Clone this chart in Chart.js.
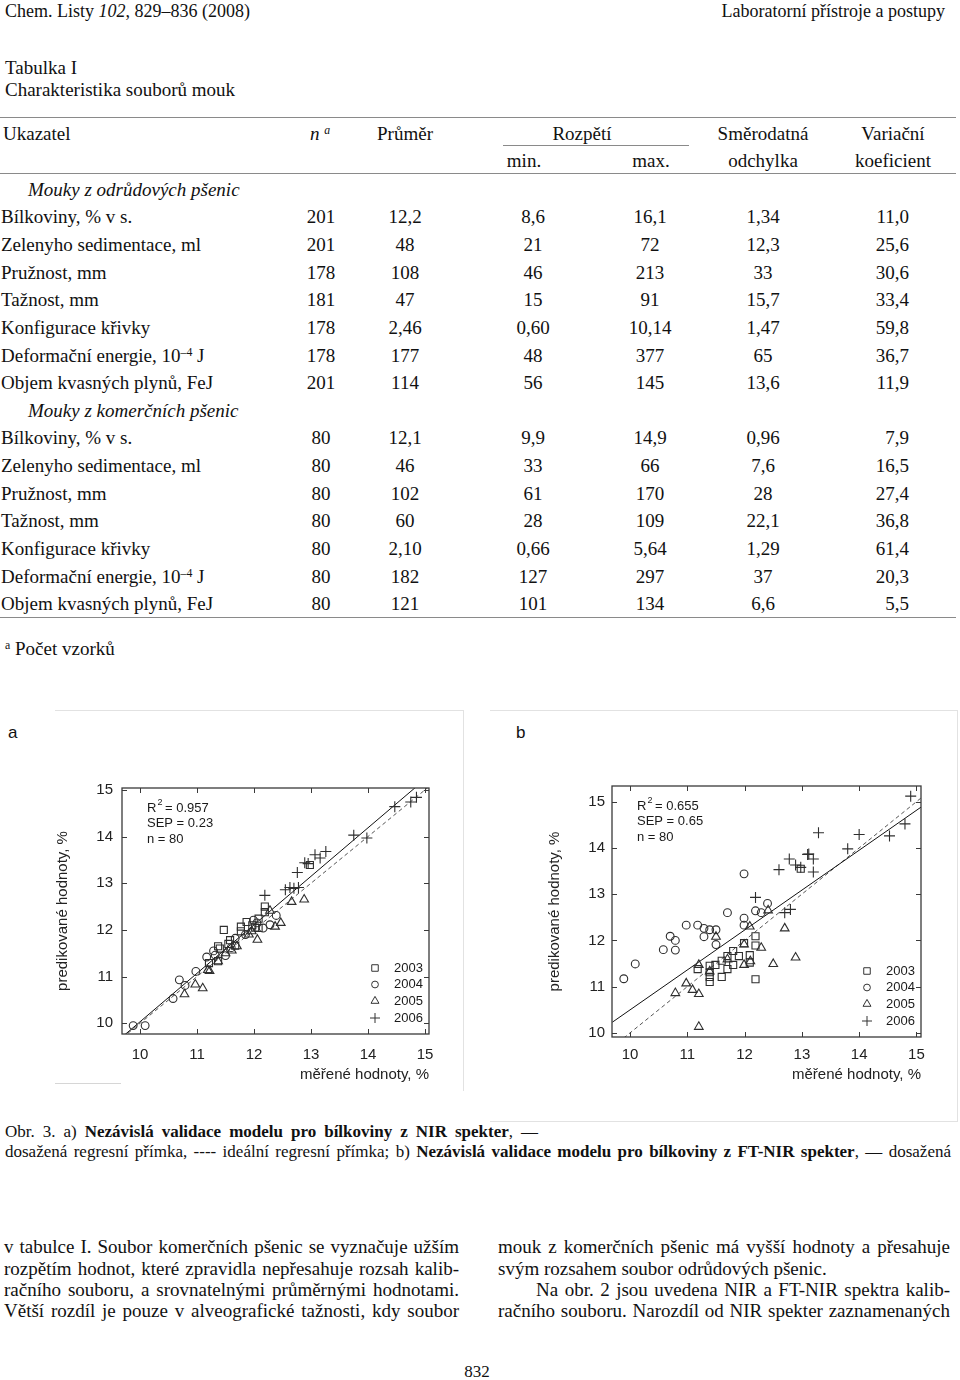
<!DOCTYPE html>
<html lang="cs">
<head>
<meta charset="utf-8">
<script src="https://cdn.jsdelivr.net/npm/chart.js@4.4.1/dist/chart.umd.min.js"></script>
<style>
  html,body{margin:0;padding:0;background:#fff;}
  body{width:960px;height:1380px;position:relative;overflow:hidden;font-family:"Liberation Serif","Times New Roman",serif;color:#111;}
  .t{position:absolute;white-space:nowrap;line-height:1;}
  .c{transform:translateX(-50%);}
  .r{transform:translateX(-100%);}
  .hl{position:absolute;height:0;border-top:1.5px solid #8a8a8a;}
  sup{font-size:62%;line-height:0;vertical-align:0.55em;}
  canvas{position:absolute;}
  .pb{position:absolute;border-color:#e2e2e2;border-style:solid;border-width:0;}
  .sans{font-family:"Liberation Sans",Arial,sans-serif;}
</style>
</head>
<body>
<div id="page"></div>
<div class="pb" style="left:55px;top:710px;width:408px;height:380px;border-top-width:1px;border-right-width:1px;"></div>
<div class="pb" style="left:55px;top:1083px;width:66px;height:0;border-top-width:1px;border-color:#d6d6d6;"></div>
<div class="pb" style="left:490px;top:710px;width:467px;height:410px;border-top-width:1px;border-right-width:1px;border-bottom-width:1px;"></div>
<div class="t sans" style="left:8px;top:724px;font-size:17px;">a</div>
<div class="t sans" style="left:516px;top:724px;font-size:17px;">b</div>
<canvas id="chartA" width="400" height="320" style="left:50px;top:770px;"></canvas>
<canvas id="chartB" width="400" height="320" style="left:540px;top:770px;"></canvas>

<script>
// ---------------- table data ----------------
const tableHead1 = ["Ukazatel", "Průměr", "Rozpětí", "Směrodatná", "Variační"];
const tableHead2 = ["min.", "max.", "odchylka", "koeficient"];
const groupTitles = ["Mouky z odrůdových pšenic", "Mouky z komerčních pšenic"];
const rowLabels = ["Bílkoviny, % v s.", "Zelenyho sedimentace, ml", "Pružnost, mm", "Tažnost, mm",
  "Konfigurace křivky", "Deformační energie, 10<sup>–4</sup> J", "Objem kvasných plynů, FeJ"];
const group1Values = [
  ["201","12,2","8,6","16,1","1,34","11,0"],
  ["201","48","21","72","12,3","25,6"],
  ["178","108","46","213","33","30,6"],
  ["181","47","15","91","15,7","33,4"],
  ["178","2,46","0,60","10,14","1,47","59,8"],
  ["178","177","48","377","65","36,7"],
  ["201","114","56","145","13,6","11,9"]];
const group2Values = [
  ["80","12,1","9,9","14,9","0,96","7,9"],
  ["80","46","33","66","7,6","16,5"],
  ["80","102","61","170","28","27,4"],
  ["80","60","28","109","22,1","36,8"],
  ["80","2,10","0,66","5,64","1,29","61,4"],
  ["80","182","127","297","37","20,3"],
  ["80","121","101","134","6,6","5,5"]];

// ---------------- chart data: [measured, predicted] ----------------
const years = ["2003", "2004", "2005", "2006"];
const tickValues = [10, 11, 12, 13, 14, 15];

const a2003 = [[11.47,12.00],[11.37,11.65],[11.58,11.78],[11.67,11.66],[11.77,12.07],[11.77,11.97],[11.87,12.17],
  [12.08,12.24],[12.19,12.50],[12.19,12.38],[12.08,12.04],[11.21,11.29],[11.37,11.33],[11.97,12.10],[12.98,13.39],
  [11.40,11.60],[12.02,12.05],[11.55,11.70]];
const a2004 = [[9.88,9.95],[10.09,9.95],[10.69,10.93],[10.58,10.53],[10.79,10.81],[10.98,11.11],[11.17,11.42],
  [11.29,11.55],[11.32,11.46],[11.50,11.45],[11.67,11.82],[11.99,12.21],[12.28,12.11],[12.39,12.31],[12.16,12.04],
  [12.05,12.15],[11.85,11.90],[11.60,11.62]];
const a2005 = [[10.78,10.62],[10.97,10.83],[11.10,10.75],[11.19,11.14],[11.22,11.12],[11.37,11.33],[11.61,11.56],
  [11.70,11.65],[11.91,11.90],[12.06,11.79],[11.96,11.97],[12.37,12.07],[12.47,12.15],[12.66,12.60],[12.88,12.65],
  [12.28,12.41],[11.50,11.50]];
const a2006 = [[12.19,12.74],[12.55,12.86],[12.63,12.91],[12.78,12.91],[12.76,13.23],[12.89,13.44],[12.95,13.42],
  [13.07,13.61],[13.16,13.54],[13.26,13.68],[13.75,14.03],[13.98,13.97],[14.47,14.64],[14.75,14.74],[14.85,14.84],
  [12.70,12.89]];
const aFitLine = [[9.70,9.72],[14.84,15.06]];
const aIdealLine = [[9.6,9.6],[15.4,15.4]];
const aStats = ["0.957", "0.23", "80"];

const b2003 = [[11.18,11.38],[11.39,11.45],[11.39,11.31],[11.39,11.21],[11.39,11.10],[11.49,11.47],[11.60,11.21],
  [11.60,11.56],[11.70,11.38],[11.70,11.66],[11.80,11.77],[11.80,11.47],[11.90,11.66],[11.99,11.94],[12.09,11.68],
  [12.09,11.52],[12.19,12.09],[12.19,11.89],[12.19,11.16],[12.98,13.55]];
const b2004 = [[9.89,11.17],[10.09,11.49],[10.58,11.80],[10.70,12.09],[10.79,12.00],[10.79,11.79],[10.98,12.33],
  [11.18,12.33],[11.29,12.26],[11.29,12.08],[11.39,12.23],[11.50,12.23],[11.50,11.91],[11.70,12.60],[11.99,13.44],
  [11.99,12.48],[11.99,12.33],[12.19,12.64],[12.29,12.60],[12.40,12.80]];
const b2005 = [[10.79,10.86],[10.98,11.07],[11.09,10.93],[11.20,10.84],[11.20,10.13],[11.20,11.47],[11.39,11.33],
  [11.50,12.08],[11.70,11.59],[11.99,11.91],[11.99,11.47],[12.09,12.30],[12.29,11.84],[12.41,12.65],[12.50,11.49],
  [12.70,12.26],[12.89,11.63],[12.10,11.55]];
const b2006 = [[12.19,12.93],[12.60,13.53],[12.78,13.76],[12.89,13.63],[12.98,13.58],[13.10,13.86],[13.20,13.76],
  [13.20,13.48],[13.29,14.33],[13.80,13.98],[14.00,14.29],[14.53,14.26],[14.80,14.52],[14.90,15.12],[12.70,12.60],
  [12.80,12.67],[13.12,13.87]];
const bFitLine = [[9.69,10.23],[15.1,14.90]];
const bIdealLine = [[9.6,9.6],[15.4,15.4]];
const bStats = ["0.655", "0.65", "80"];

const xTitle = "měřené hodnoty, %";
const yTitle = "predikované hodnoty, %";

// ---------------- page text ----------------
const page = document.getElementById('page');
function txt(html, x, y, fs, cls, extra) {
  const d = document.createElement('div');
  d.className = 't ' + (cls || '');
  d.style.left = x + 'px';
  d.style.top = (y - fs / 2) + 'px';
  d.style.fontSize = fs + 'px';
  if (extra) d.style.cssText += extra;
  d.innerHTML = html;
  page.appendChild(d);
  return d;
}
// single justified line: stretch (or squeeze) the word spacing to fill width w
function jline(html, x, y, w, fs) {
  const d = txt(html, x, y, fs);
  const natural = d.getBoundingClientRect().width;
  const gaps = (d.textContent.match(/ /g) || []).length;
  if (gaps > 0) {
    let ws = (w - natural) / gaps;
    if (ws < -1.5) {
      d.style.letterSpacing = ((w - natural + 1.5 * gaps) / d.textContent.length) + 'px';
      ws = -1.5;
    }
    d.style.wordSpacing = ws + 'px';
  }
  return d;
}
function hline(x, y, w) {
  const d = document.createElement('div');
  d.className = 'hl';
  d.style.left = x + 'px'; d.style.top = y + 'px'; d.style.width = w + 'px';
  page.appendChild(d);
}

const FS = 19;
txt('Chem. Listy <i>102</i>, 829–836 (2008)', 5, 11, 18);
txt('Laboratorní přístroje a postupy', 945, 11, 18, 'r');
txt('Tabulka I', 5, 67, FS);
txt('Charakteristika souborů mouk', 5, 89, FS);
hline(0, 117, 956);
txt(tableHead1[0], 3, 133, FS);
txt('<i>n</i> <sup><i>a</i></sup>', 310, 133, FS);
txt(tableHead1[1], 405, 133, FS, 'c');
txt(tableHead1[2], 582, 133, FS, 'c');
hline(503, 145, 186);
txt(tableHead1[3], 763, 133, FS, 'c');
txt(tableHead1[4], 893, 133, FS, 'c');
txt(tableHead2[0], 524, 160, FS, 'c');
txt(tableHead2[1], 651, 160, FS, 'c');
txt(tableHead2[2], 763, 160, FS, 'c');
txt(tableHead2[3], 893, 160, FS, 'c');
hline(0, 173, 956);

const colX = [321, 405, 533, 650, 763];
function drawGroup(title, values, y0) {
  txt('<i>' + title + '</i>', 28, y0, FS);
  values.forEach((row, i) => {
    const y = y0 + 27.7 * (i + 1);
    txt(rowLabels[i], 1, y, FS);
    row.slice(0, 5).forEach((v, k) => txt(v, colX[k], y, FS, 'c'));
    txt(row[5], 909, y, FS, 'r');
  });
}
drawGroup(groupTitles[0], group1Values, 189);
drawGroup(groupTitles[1], group2Values, 410);
hline(0, 617, 956);
txt('<sup>a</sup> Počet vzorků', 5, 648, FS);

// caption
jline('Obr. 3. a) <b>Nezávislá validace modelu pro bílkoviny z NIR spekter</b>, —', 5, 1131, 533, 17);
jline('dosažená regresní přímka, ---- ideální regresní přímka; b) <b>Nezávislá validace modelu pro bílkoviny z FT-NIR spekter</b>, — dosažená', 5, 1151, 946, 17);

// body text
const BF = 19;
jline('v tabulce I. Soubor komerčních pšenic se vyznačuje užším', 4, 1246, 455, BF);
jline('rozpětím hodnot, které zpravidla nepřesahuje rozsah kalib-', 4, 1268, 455, BF);
jline('račního souboru, a srovnatelnými průměrnými hodnotami.', 4, 1289, 455, BF);
jline('Větší rozdíl je pouze v alveografické tažnosti, kdy soubor', 4, 1310, 455, BF);
jline('mouk z komerčních pšenic má vyšší hodnoty a přesahuje', 498, 1246, 452, BF);
txt('svým rozsahem soubor odrůdových pšenic.', 498, 1268, BF);
jline('Na obr. 2 jsou uvedena NIR a FT-NIR spektra kalib-', 536, 1289, 414, BF);
jline('račního souboru. Narozdíl od NIR spekter zaznamenaných', 498, 1310, 452, BF);
txt('832', 477, 1371, 17, 'c');

// ---------------- charts ----------------
Chart.defaults.font.family = '"Liberation Sans", Arial, sans-serif';
Chart.defaults.color = '#222';

function drawSymbol(ctx, style, r, x, y) {
  ctx.beginPath();
  if (style === 'rect') { const s = r * Math.SQRT1_2; ctx.rect(x - s, y - s, 2 * s, 2 * s); }
  else if (style === 'circle') ctx.arc(x, y, r, 0, Math.PI * 2);
  else if (style === 'triangle') { ctx.moveTo(x, y - r); ctx.lineTo(x + r * 0.866, y + r * 0.5); ctx.lineTo(x - r * 0.866, y + r * 0.5); ctx.closePath(); }
  else { ctx.moveTo(x - r, y); ctx.lineTo(x + r, y); ctx.moveTo(x, y - r); ctx.lineTo(x, y + r); }
  ctx.stroke();
}

const framePlugin = {
  id: 'frame',
  afterDraw(chart, args, opts) {
    const {ctx, chartArea: {left, right, top, bottom}, scales: {x, y}} = chart;
    ctx.save();
    ctx.strokeStyle = '#3a3a3a';
    ctx.lineWidth = 1.3;
    ctx.strokeRect(left, top, right - left, bottom - top);
    ctx.lineWidth = 1;
    ctx.beginPath();
    x.ticks.forEach(t => {
      const px = Math.round(x.getPixelForValue(t.value)) + 0.5;
      ctx.moveTo(px, top); ctx.lineTo(px, top + 5);
      ctx.moveTo(px, bottom); ctx.lineTo(px, bottom - 5);
    });
    y.ticks.forEach(t => {
      const py = Math.round(y.getPixelForValue(t.value)) + 0.5;
      ctx.moveTo(left, py); ctx.lineTo(left + 5, py);
      ctx.moveTo(right, py); ctx.lineTo(right - 5, py);
    });
    ctx.stroke();

    // statistics box
    const s = opts.stats;
    ctx.fillStyle = '#1a1a1a';
    ctx.textBaseline = 'middle';
    ctx.textAlign = 'left';
    ctx.font = '13px "Liberation Sans", Arial, sans-serif';
    const lx = left + 25;
    ctx.fillText('R', lx, top + 20);
    const rw = ctx.measureText('R').width;
    ctx.font = '9px "Liberation Sans", Arial, sans-serif';
    ctx.fillText('2', lx + rw + 1, top + 15);
    ctx.font = '13px "Liberation Sans", Arial, sans-serif';
    ctx.fillText(' = ' + s[0], lx + rw + 5, top + 20);
    ctx.fillText('SEP = ' + s[1], lx, top + 35.5);
    ctx.fillText('n = ' + s[2], lx, top + 51);

    // legend
    const rows = [66, 49.5, 33, 16];
    chart.data.datasets.forEach((ds, i) => {
      if (!ds.isYear) return;
      const yy = bottom - rows[i];
      ctx.strokeStyle = '#333';
      ctx.lineWidth = 1;
      const r = ds.pointStyle === 'cross' ? 5 : (ds.pointStyle === 'circle' ? 3.4 : 4.6);
      drawSymbol(ctx, ds.pointStyle, r, right - 54, yy);
      ctx.fillStyle = '#1a1a1a';
      ctx.fillText(ds.label, right - 35, yy);
    });
    ctx.restore();
  }
};

const styles = [
  {pointStyle: 'rect', radius: 5},
  {pointStyle: 'circle', radius: 3.9},
  {pointStyle: 'triangle', radius: 5},
  {pointStyle: 'cross', radius: 5.5}
];
function toXY(arr) { return arr.map(p => ({x: p[0], y: p[1]})); }

function buildChart(id, series, fitLine, idealLine, stats, geom) {
  const datasets = series.map((arr, i) => ({
    type: 'scatter',
    label: years[i],
    isYear: true,
    data: toXY(arr),
    pointStyle: styles[i].pointStyle,
    pointRadius: styles[i].radius,
    pointHoverRadius: styles[i].radius,
    pointBorderWidth: 1.1,
    borderColor: '#2e2e2e',
    backgroundColor: 'rgba(0,0,0,0)',
    order: 1
  }));
  datasets.push({
    type: 'line', label: 'fit', data: toXY(fitLine), borderColor: '#111', borderWidth: 1,
    pointRadius: 0, fill: false, tension: 0, order: 2
  });
  datasets.push({
    type: 'line', label: 'ideal', data: toXY(idealLine), borderColor: '#555', borderWidth: 1,
    borderDash: [4, 3], pointRadius: 0, fill: false, tension: 0, order: 3
  });
  return new Chart(document.getElementById(id), {
    type: 'scatter',
    data: {datasets},
    plugins: [framePlugin],
    options: {
      responsive: false,
      animation: false,
      events: [],
      layout: {padding: {top: geom.top, right: geom.right, left: 0, bottom: 0}},
      plugins: {legend: {display: false}, tooltip: {enabled: false}, frame: {stats}},
      scales: {
        x: {
          type: 'linear', min: geom.xmin, max: geom.xmax,
          afterBuildTicks: sc => { sc.ticks = tickValues.map(v => ({value: v})); },
          afterFit: sc => { sc.height = geom.xh; },
          grid: {display: false, drawTicks: false},
          border: {display: false},
          ticks: {padding: geom.xpad, font: {size: 15}, color: '#222', maxRotation: 0, callback: v => String(v)},
          title: {display: true, text: xTitle, align: 'end', font: {size: 15}, color: '#222', padding: {top: 0, bottom: 6}}
        },
        y: {
          type: 'linear', min: geom.ymin, max: geom.ymax,
          afterBuildTicks: sc => { sc.ticks = tickValues.map(v => ({value: v})); },
          afterFit: sc => { sc.width = 72; },
          grid: {display: false, drawTicks: false},
          border: {display: false},
          ticks: {padding: geom.ypad, font: {size: 15}, color: '#222', callback: v => String(v)},
          title: {display: true, text: yTitle, font: {size: 15}, color: '#222', padding: {top: geom.ytpad, bottom: 0}}
        }
      }
    }
  });
}

buildChart('chartA', [a2003, a2004, a2005, a2006], aFitLine, aIdealLine, aStats,
  {top: 7, right: 21, xh: 56, xmin: 9.684, xmax: 15.07, ymin: 9.77, ymax: 15.04, xpad: 12, ypad: 9, ytpad: 4});
buildChart('chartB', [b2003, b2004, b2005, b2006], bFitLine, bIdealLine, bStats,
  {top: 8, right: 19, xh: 53, xmin: 9.684, xmax: 15.08, ymin: 9.91, ymax: 15.34, xpad: 9, ypad: 7, ytpad: 6});
</script>
</body>
</html>
